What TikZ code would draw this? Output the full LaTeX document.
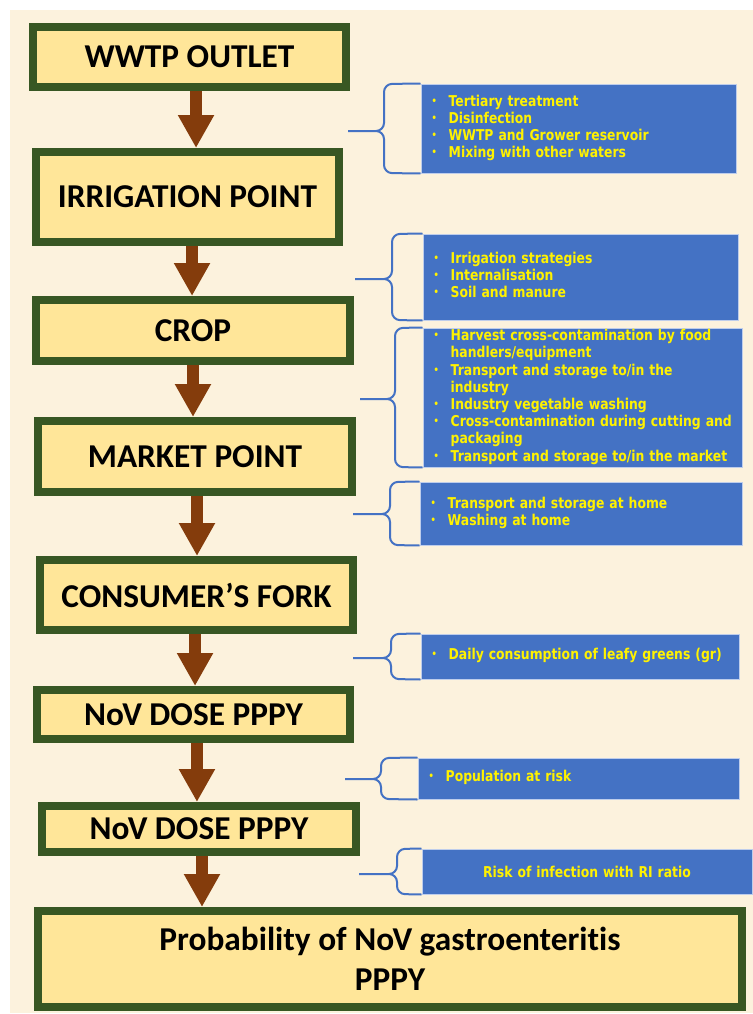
\documentclass[tikz,border=0pt]{standalone}
\usepackage{fontspec}
\setmainfont{Carlito}[Ligatures=NoCommon]
\newfontfamily\notefont[FakeStretch=0.83]{DejaVu Sans}
\usetikzlibrary{arrows.meta}

\definecolor{paper}{RGB}{252,242,221}
\definecolor{leaf}{RGB}{56,87,35}
\definecolor{straw}{RGB}{255,230,153}
\definecolor{rust}{RGB}{132,60,12}
\definecolor{steel}{RGB}{68,114,196}
\definecolor{edge}{RGB}{190,205,235}

\newcommand{\dotmark}{\raisebox{1.5pt}{\fontsize{7.5}{7.5}\selectfont •}}

\tikzset{every picture/.style={line width=0.75pt}}
\tikzset{
  stage/.style={draw=leaf, fill=straw, line width=6pt, inner sep=0pt, align=center,
    font=\fontsize{25}{30}\selectfont\bfseries},
  note/.style={draw=edge, fill=steel, text=yellow, inner xsep=8pt, inner ysep=0pt, align=left,
    font=\notefont\bfseries\fontsize{11.2}{12.9}\selectfont},
  flow/.style={draw=rust, line width=9pt, -{Triangle[width=25.5pt,length=24.75pt]}},
  bline/.style={draw=steel, line width=1.5pt, rounded corners=6pt},
}

\begin{document}
\begin{tikzpicture}[x=0.75pt,y=0.75pt,yscale=-1,xscale=1]
\useasboundingbox (0,0) rectangle (753,1014);

%Shape: Rectangle [paper]
\fill[paper] (10,10) rectangle (753,1013);

% Stage Nodes
\node (wwtp) [stage, minimum width=234.75pt, minimum height=45pt] at (189.5,57) {WWTP OUTLET};
\node (irrig) [stage, minimum width=227.25pt, minimum height=67.5pt] at (187.5,197) {IRRIGATION POINT};
\node (crop) [stage, minimum width=235.5pt, minimum height=45.75pt] at (193,330.5) {CROP};
\node (market) [stage, minimum width=235.5pt, minimum height=53.25pt] at (195,456.5) {MARKET POINT};
\node (fork) [stage, minimum width=234.75pt, minimum height=52.5pt] at (196.5,595) {CONSUMER’S FORK};
\node (doseA) [stage, minimum width=234.75pt, minimum height=36.75pt] at (193.5,714.5) {NoV DOSE PPPY};
\node (doseB) [stage, minimum width=235.5pt, minimum height=34.5pt] at (199,829) {NoV DOSE PPPY};
\node (prob) [stage, minimum width=528pt, minimum height=72pt] at (390,959) {Probability of NoV gastroenteritis\\PPPY};

%Straight Lines [arrows]
\draw[flow] ([xshift=4.9pt]wwtp.south) -- ([xshift=4.9pt]wwtp.south |- irrig.north);
\draw[flow] ([xshift=3.4pt]irrig.south) -- ([xshift=3.4pt]irrig.south |- crop.north);
\draw[flow] (crop.south) -- (crop.south |- market.north);
\draw[flow] ([xshift=1.5pt]market.south) -- ([xshift=1.5pt]market.south |- fork.north);
\draw[flow] ([xshift=-1.1pt]fork.south) -- ([xshift=-1.1pt]fork.south |- doseA.north);
\draw[flow] ([xshift=2.6pt]doseA.south) -- ([xshift=2.6pt]doseA.south |- doseB.north);
\draw[flow] ([xshift=2.25pt]doseB.south) -- ([xshift=2.25pt]doseB.south |- prob.north);

% Note Nodes
\node (n1) [note, text width=220.25pt, minimum height=66.75pt] at (578.5,128.5) {%
  \begin{tabular}{@{}p{12.75pt}@{}l@{}}
  \dotmark & Tertiary treatment\\
  \dotmark & Disinfection\\
  \dotmark & WWTP and Grower reservoir\\
  \dotmark & Mixing with other waters
  \end{tabular}};
\node (n2) [note, text width=220.25pt, minimum height=64.5pt] at (580.5,277) {%
  \begin{tabular}{@{}p{12.75pt}@{}l@{}}
  \dotmark & Irrigation strategies\\
  \dotmark & Internalisation\\
  \dotmark & Soil and manure
  \end{tabular}};
\node (n3) [note, text width=223.25pt, minimum height=104.25pt] at (582.5,397.5) {%
  \begin{tabular}{@{}p{12.75pt}@{}l@{}}
  \dotmark & Harvest cross-contamination by food\\
           & handlers/equipment\\
  \dotmark & Transport and storage to/in the\\
           & industry\\
  \dotmark & Industry vegetable washing\\
  \dotmark & Cross-contamination during cutting and\\
           & packaging\\
  \dotmark & Transport and storage to/in the market
  \end{tabular}};
\node (n4) [note, text width=225.5pt, minimum height=47.25pt] at (581,513.5) {%
  \begin{tabular}{@{}p{12.75pt}@{}l@{}}
  \dotmark & Transport and storage at home\\
  \dotmark & Washing at home
  \end{tabular}};
\node (n5) [note, text width=222.5pt, minimum height=33.75pt] at (580,656.5) {%
  \begin{tabular}{@{}p{12.75pt}@{}l@{}}
  \dotmark & Daily consumption of leafy greens (gr)
  \end{tabular}};
\node (n6) [note, text width=224.75pt, minimum height=30.75pt] at (578.5,778.5) {%
  \begin{tabular}{@{}p{12.75pt}@{}l@{}}
  \dotmark & Population at risk
  \end{tabular}};
\node (n7) [note, text width=231.5pt, minimum height=33.75pt, align=center] at (587,871.5) {Risk of infection with RI ratio};

%Curly Braces
\draw[bline] (n1.north west) -- (384,84) -- (384,131) -- (348,131) (n1.south west) -- (384,173) -- (384,131) -- (348,131);
\draw[bline] (n2.north west) -- (392,234) -- (392,279) -- (355,279) (n2.south west) -- (392,320) -- (392,279) -- (355,279);
\draw[bline] (n3.north west) -- (395,328) -- (395,399) -- (360,399) (n3.south west) -- (395,467) -- (395,399) -- (360,399);
\draw[bline] (n4.north west) -- (390,482) -- (390,514) -- (353,514) (n4.south west) -- (390,545) -- (390,514) -- (353,514);
\draw[bline] (n5.north west) -- (391,634) -- (391,658) -- (353,658) (n5.south west) -- (391,679) -- (391,658) -- (353,658);
\draw[bline] (n6.north west) -- (381,758) -- (381,779) -- (345,779) (n6.south west) -- (381,799) -- (381,779) -- (345,779);
\draw[bline] (n7.north west) -- (397,849) -- (397,874) -- (359,874) (n7.south west) -- (397,894) -- (397,874) -- (359,874);

\end{tikzpicture}
\end{document}
